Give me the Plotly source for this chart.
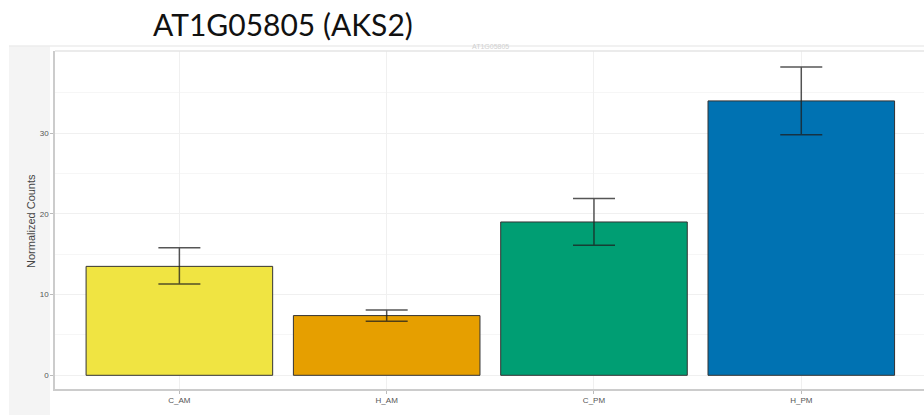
import plotly.graph_objects as go

categories = ["C_AM", "H_AM", "C_PM", "H_PM"]
means = [13.5, 7.4, 19.0, 34.0]
err_upper = [15.8, 8.1, 21.9, 38.2]
err_lower = [11.3, 6.7, 16.1, 29.8]
colors = ["#F0E442", "#E69F00", "#009E73", "#0072B2"]
y_ticks = [0, 10, 20, 30]

W, H = 924, 415

def px(x):
    return x / W

def py(y):
    return 1 - y / H

fig = go.Figure()
fig.add_trace(go.Bar(
    x=list(range(len(categories))),
    y=means,
    width=0.9,
    marker=dict(color=colors, line=dict(color="#333333", width=1)),
    error_y=dict(
        type="data",
        symmetric=False,
        array=[u - m for u, m in zip(err_upper, means)],
        arrayminus=[m - l for m, l in zip(means, err_lower)],
        color="rgba(30,30,30,0.75)",
        thickness=1.5,
        width=21,
    ),
    showlegend=False,
))

x_left, x_right = 55, 924
y_top, y_bottom = 51, 389
spacing = 207.3
x0 = -0.6
x1 = x0 + (x_right - x_left) / spacing
ppu = 8.07
y_zero = 375.3
y_min = -(y_bottom - y_zero) / ppu
y_max = (y_zero - y_top) / ppu

fig.update_layout(
    width=W, height=H,
    margin=dict(l=0, r=0, t=0, b=0),
    paper_bgcolor="white",
    plot_bgcolor="white",
    bargap=0.1,
    xaxis=dict(
        domain=[px(x_left), px(x_right)],
        range=[x0, x1],
        tickmode="array",
        tickvals=list(range(len(categories))),
        ticktext=categories,
        showgrid=True, gridcolor="#f0f0f0", gridwidth=1,
        zeroline=False,
        showline=True, linecolor="#cccccc", linewidth=1.5,
        ticks="outside", ticklen=3, tickcolor="#bbbbbb",
        tickfont=dict(family="Liberation Sans", size=8, color="#555555"),
        automargin=False,
    ),
    yaxis=dict(
        domain=[py(y_bottom), py(y_top)],
        range=[y_min, y_max],
        tickmode="array",
        tickvals=y_ticks,
        ticktext=[str(v) for v in y_ticks],
        showgrid=True, gridcolor="#f0f0f0", gridwidth=1,
        minor=dict(tickvals=[5, 15, 25, 35], showgrid=True, gridcolor="#f6f6f6", gridwidth=1),
        zeroline=False,
        showline=True, linecolor="#cccccc", linewidth=1.5,
        ticks="outside", ticklen=3, tickcolor="#bbbbbb",
        tickfont=dict(family="Liberation Sans", size=8, color="#555555"),
        automargin=False,
    ),
    shapes=[
        dict(type="rect", xref="paper", yref="paper",
             x0=px(9), x1=px(50), y0=py(415), y1=py(46),
             fillcolor="#f4f4f4", line=dict(width=0), layer="below"),
        dict(type="line", xref="paper", yref="paper",
             x0=px(9), x1=1, y0=py(46), y1=py(46),
             line=dict(color="#ececec", width=1.5)),
        dict(type="line", xref="paper", yref="paper",
             x0=px(x_left), x1=1, y0=py(y_top), y1=py(y_top),
             line=dict(color="#e4e4e4", width=1.5)),
    ],
    annotations=[
        dict(text="AT1G05805 (AKS2)", xref="paper", yref="paper",
             x=px(283), y=py(24), xanchor="center", yanchor="middle",
             showarrow=False,
             font=dict(family="Lato", size=30, color="#111111")),
        dict(text="AT1G05805", xref="paper", yref="paper",
             x=px(490), y=py(47), xanchor="center", yanchor="middle",
             showarrow=False,
             font=dict(family="Liberation Sans", size=7, color="#d0d0d0")),
        dict(text="Normalized Counts", xref="paper", yref="paper",
             x=px(31), y=py(221), xanchor="center", yanchor="middle",
             textangle=-90, showarrow=False,
             font=dict(family="Liberation Sans", size=11, color="#444444")),
    ],
)

fig.write_html("out.html")
